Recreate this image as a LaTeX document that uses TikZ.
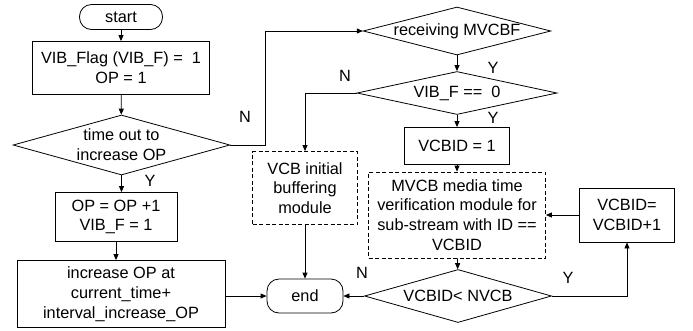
\documentclass[tikz,border=0pt]{standalone}
\usepackage{fontspec}
\setmainfont{Liberation Sans}
\usetikzlibrary{shapes.geometric,arrows.meta}

\tikzset{
  box/.style={draw,align=center,inner sep=1pt},
  module/.style={box,dash pattern=on 4pt off 2.5pt},
  term/.style={draw,rounded corners=12pt,inner sep=1pt},
  test/.style={draw,diamond,aspect=4,inner sep=0pt,align=center},
  flow/.style={-{Triangle[length=6pt,width=5pt]}},
  yn/.style={inner sep=0pt}
}

\begin{document}
\begin{tikzpicture}[x=1pt,y=-1pt,line width=0.8pt,
    font=\fontsize{16.3}{19.8}\selectfont]
      \useasboundingbox (0,0) rectangle (693,330);
      % left column
      \node[term,minimum width=83,minimum height=25] (start) at (121,17) {start};
      \node[box,minimum width=177,minimum height=53] (flag) at (121,68) {VIB\_Flag (VIB\_F) =\ \ 1\\OP = 1};
      \node[test,minimum width=213,minimum height=60] (tout) at (121.5,145) {time out to\\increase OP};
      \node[box,minimum width=122,minimum height=49] (incop) at (116,217) {OP = OP +1\\VIB\_F = 1};
      \node[box,minimum width=208,minimum height=67] (sched) at (121,294) {increase OP at\\current\_time+\\interval\_increase\_OP};
      \node[term,minimum width=76,minimum height=34] (end) at (305,296) {end};
      % right column
      \node[test,minimum width=175,minimum height=48] (recv) at (457,31) {receiving MVCBF};
      \node[test,minimum width=200,minimum height=43] (vibz) at (457,93) {VIB\_F ==\ \ 0};
      \node[module,minimum width=105,minimum height=73] (vcbbuf) at (305,188) {VCB initial\\buffering\\module};
      \node[box,minimum width=105,minimum height=37] (idone) at (457,146) {VCBID = 1};
      \node[module,minimum width=177,minimum height=86] (verify) at (457,215) {MVCB media time\\verification module for\\sub-stream with ID ==\\VCBID};
      \node[test,minimum width=187,minimum height=53] (idlt) at (458,296) {VCBID< NVCB};
      \node[box,minimum width=95,minimum height=54] (idinc) at (627,215) {VCBID=\\VCBID+1};
      \coordinate (j1) at (265,145);
      % connectors
      \draw[flow] (start) -- (flag);
      \draw[flow] (flag) -- (tout);
      \draw[flow] (tout.east) -- (j1) |- (recv.west);
      \draw[flow] (tout.south) -- (tout.south |- incop.north);
      \draw[flow] (incop) -- (incop |- sched.north);
      \draw[flow] (sched.east |- end) -- (end.west);
      \draw[flow] (recv) -- (vibz);
      \draw[flow] (vibz.west) -| (vcbbuf.north);
      \draw[flow] (vibz) -- (idone);
      \draw[flow] (idone) -- (verify);
      \draw[flow] (verify) -- (idlt);
      \draw[flow] (vcbbuf) -- (end);
      \draw[flow] (idlt.west) -- (end.east);
      \draw[flow] (idlt.east) -| (idinc.south);
      \draw[flow] (idinc.west) -- (verify.east);
      % branch labels
      \node[yn] at (245,117) {N};
      \node[yn] at (150,181) {Y};
      \node[yn] at (493,68) {Y};
      \node[yn] at (345,76) {N};
      \node[yn] at (493,118) {Y};
      \node[yn] at (362,273) {N};
      \node[yn] at (568,278) {Y};
\end{tikzpicture}
\end{document}
